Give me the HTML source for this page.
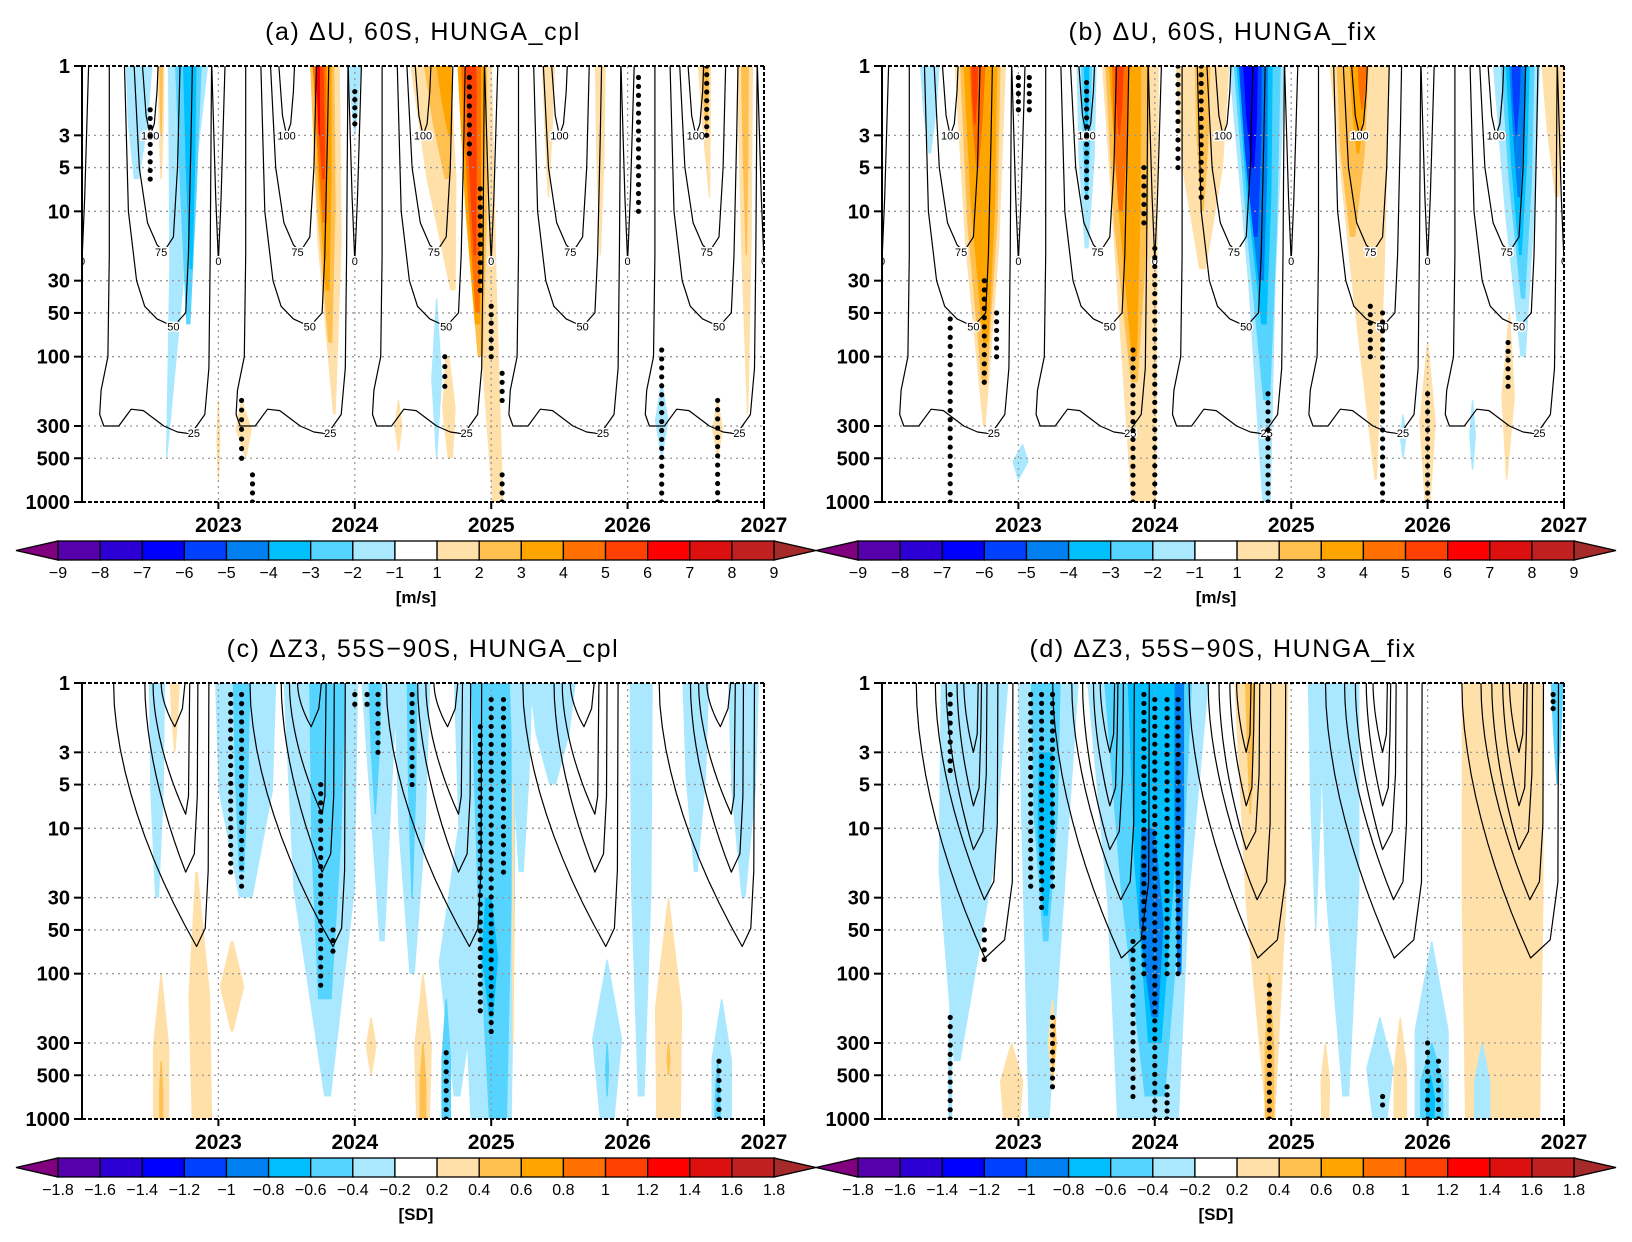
<!DOCTYPE html>
<html><head><meta charset="utf-8"><style>
html,body{margin:0;padding:0;background:#fff;}
svg{display:block;font-family:"Liberation Sans","DejaVu Sans",sans-serif;}
</style></head><body>
<svg id="fig" width="1632" height="1242" viewBox="0 0 1632 1242" xmlns="http://www.w3.org/2000/svg"></svg>
<script>
// ---------- data ----------
const yearTicks = [2023, 2024, 2025, 2026, 2027];
const pressureTicks = [1, 3, 5, 10, 30, 50, 100, 300, 500, 1000];
const windLabels = ["−9","−8","−7","−6","−5","−4","−3","−2","−1","1","2","3","4","5","6","7","8","9"];
const sdLabels = ["−1.8","−1.6","−1.4","−1.2","−1","−0.8","−0.6","−0.4","−0.2","0.2","0.4","0.6","0.8","1","1.2","1.4","1.6","1.8"];
const panelTitles = ["(a) ΔU, 60S, HUNGA_cpl","(b) ΔU, 60S, HUNGA_fix","(c) ΔZ3, 55S−90S, HUNGA_cpl","(d) ΔZ3, 55S−90S, HUNGA_fix"];
// anomaly features: [timeTop, timeBottom, pTop, pBottom, widthTop(yr), widthMid(yr), widthBottom(yr), level]
const featA = [
[2022.42,2022.40,1,6,0.2,0.15,0.04,-1],[2022.78,2022.62,1,500,0.3,0.12,0.01,-1],[2022.78,2022.78,1,60,0.2,0.12,0.03,-2],
[2022.79,2022.8,1,25,0.1,0.07,0.02,-3],[2022.58,2022.58,1,6,0.05,0.04,0.01,1],[2022.58,2022.58,1,3,0.03,0.02,0.01,2],
[2023.78,2023.85,1,250,0.22,0.18,0.02,1],[2023.76,2023.82,1,80,0.18,0.14,0.03,2],[2023.76,2023.8,1,35,0.14,0.1,0.03,3],
[2023.74,2023.78,1,12,0.1,0.07,0.03,4],[2023.74,2023.77,1,6,0.06,0.05,0.02,5],[2023.73,2023.74,1,3,0.03,0.02,0.01,6],
[2024.0,2024.0,1,3,0.1,0.06,0.01,-1],[2024.55,2024.72,1,35,0.3,0.22,0.04,1],[2024.6,2024.68,1,6,0.2,0.14,0.04,2],
[2024.65,2024.7,1,3,0.12,0.08,0.03,3],[2024.88,2025.05,1,1000,0.25,0.15,0.08,1],[2024.86,2024.92,1,100,0.22,0.16,0.04,2],
[2024.85,2024.9,1,60,0.2,0.14,0.04,3],[2024.85,2024.9,1,50,0.15,0.1,0.03,4],[2024.85,2024.88,1,20,0.08,0.06,0.02,5],
[2024.6,2024.6,40,500,0.01,0.08,0.01,-1],[2024.68,2024.7,100,500,0.03,0.1,0.04,1],[2024.32,2024.32,200,450,0.01,0.06,0.01,1],
[2025.42,2025.42,1,8,0.1,0.06,0.01,1],[2025.8,2025.8,1,20,0.08,0.06,0.01,1],[2026.25,2026.25,150,500,0.01,0.1,0.01,-1],
[2026.56,2026.6,1,8,0.1,0.06,0.01,1],[2026.57,2026.58,1,3,0.06,0.04,0.01,2],[2026.66,2026.66,200,500,0.01,0.08,0.01,1],
[2026.86,2026.88,1,250,0.12,0.08,0.01,1],[2026.86,2026.87,1,20,0.06,0.04,0.01,2],[2023.0,2023.0,200,700,0.01,0.03,0.01,1],
[2023.17,2023.2,200,500,0.01,0.12,0.01,1]
];
const featB = [
[2022.35,2022.35,1,4,0.15,0.1,0.02,-1],[2022.72,2022.75,1,300,0.38,0.25,0.02,1],[2022.72,2022.75,1,150,0.3,0.22,0.04,2],
[2022.72,2022.76,1,80,0.25,0.18,0.04,3],[2022.7,2022.7,1,5,0.12,0.08,0.02,4],[2022.68,2022.68,1,2.5,0.05,0.04,0.01,5],
[2023.03,2023.0,400,700,0.01,0.12,0.01,-1],[2023.5,2023.5,1,18,0.15,0.12,0.03,-1],[2023.5,2023.5,1,8,0.08,0.06,0.02,-2],
[2023.5,2023.5,1,3,0.04,0.03,0.01,-3],[2023.82,2023.92,1,1000,0.42,0.3,0.18,1],[2023.8,2023.85,1,150,0.33,0.25,0.05,2],
[2023.78,2023.85,1,100,0.24,0.16,0.04,3],[2023.75,2023.75,1,10,0.13,0.1,0.03,4],[2023.74,2023.74,1,3,0.07,0.05,0.01,5],
[2024.35,2024.35,1,25,0.4,0.3,0.05,1],[2024.35,2024.35,1,10,0.12,0.09,0.02,2],[2024.75,2024.82,1,1000,0.42,0.2,0.06,-1],
[2024.75,2024.82,1,200,0.35,0.22,0.05,-2],[2024.73,2024.8,1,60,0.27,0.18,0.04,-3],[2024.72,2024.78,1,30,0.22,0.15,0.04,-4],
[2024.7,2024.74,1,15,0.17,0.12,0.03,-5],[2024.7,2024.72,1,5,0.11,0.08,0.02,-6],[2025.5,2025.62,1,700,0.45,0.25,0.02,1],
[2025.45,2025.45,1,15,0.24,0.18,0.04,2],[2025.49,2025.49,1,4,0.13,0.09,0.02,3],[2025.52,2025.52,1,2,0.07,0.05,0.01,4],
[2025.82,2025.82,250,500,0.01,0.05,0.01,-1],[2026.0,2026.0,80,1000,0.01,0.12,0.04,1],[2026.33,2026.33,200,600,0.01,0.05,0.01,-1],
[2026.6,2026.58,50,700,0.01,0.1,0.01,1],[2026.65,2026.7,1,100,0.35,0.22,0.04,-1],[2026.66,2026.7,1,40,0.25,0.17,0.03,-2],
[2026.66,2026.68,1,20,0.18,0.12,0.02,-3],[2026.66,2026.67,1,8,0.13,0.08,0.02,-4],[2026.65,2026.65,1,3,0.07,0.05,0.01,-5],
[2026.92,2026.95,1,8,0.18,0.12,0.03,1]
];
const featC = [
[2022.55,2022.55,1,30,0.12,0.1,0.03,-1],[2022.68,2022.68,1,3,0.08,0.05,0.01,1],[2022.84,2022.88,20,1000,0.02,0.16,0.15,1],
[2022.58,2022.58,100,1000,0.01,0.12,0.12,1],[2022.58,2022.58,400,1000,0.01,0.03,0.03,2],[2023.1,2023.1,60,250,0.02,0.18,0.02,1],
[2023.2,2023.2,1,30,0.45,0.4,0.1,-1],[2023.17,2023.17,1,20,0.13,0.1,0.04,-2],[2023.75,2023.8,1,700,0.55,0.45,0.05,-1],
[2023.8,2023.78,1,150,0.27,0.22,0.1,-2],[2024.18,2024.2,1,60,0.27,0.15,0.04,-1],[2024.15,2024.15,1,8,0.1,0.07,0.01,-2],
[2024.42,2024.42,1,100,0.27,0.2,0.04,-1],[2024.42,2024.42,1,30,0.08,0.06,0.01,-2],[2024.78,2024.75,10,700,0.05,0.3,0.05,-1],
[2024.95,2025.0,1,1000,0.45,0.4,0.3,-1],[2025.0,2025.05,1,1000,0.3,0.25,0.13,-2],[2024.98,2025.0,30,200,0.05,0.12,0.03,-3],
[2024.67,2024.67,150,1000,0.01,0.07,0.07,-2],[2024.5,2024.5,100,1000,0.01,0.13,0.1,1],[2024.5,2024.5,300,1000,0.01,0.05,0.05,2],
[2024.12,2024.12,200,500,0.01,0.08,0.01,1],[2025.22,2025.22,1,20,0.17,0.12,0.04,-1],[2025.45,2025.45,1,5,0.35,0.25,0.05,-1],
[2025.85,2025.85,80,1000,0.01,0.22,0.1,-1],[2025.85,2025.85,300,700,0.01,0.03,0.01,-2],[2026.1,2026.1,1,700,0.17,0.15,0.05,-1],
[2026.3,2026.3,30,1000,0.01,0.2,0.18,1],[2026.3,2026.3,300,500,0.01,0.03,0.01,2],[2026.5,2026.5,1,20,0.2,0.15,0.03,-1],
[2026.69,2026.69,150,1000,0.01,0.15,0.15,-1],[2026.66,2026.66,400,1000,0.01,0.04,0.05,-2],[2026.85,2026.85,1,30,0.23,0.18,0.03,-1],
[2025.16,2025.16,5,300,0.01,0.02,0.01,1]
];
const featD = [
[2022.68,2022.55,1,400,0.5,0.4,0.05,-1],[2022.5,2022.5,150,1000,0.01,0.03,0.03,-1],[2022.95,2022.95,300,1000,0.01,0.17,0.12,1],
[2023.22,2023.15,1,1000,0.45,0.3,0.15,-1],[2023.2,2023.2,1,60,0.22,0.18,0.04,-2],[2023.2,2023.2,3,40,0.1,0.12,0.03,-3],
[2023.25,2023.25,150,600,0.01,0.07,0.01,1],[2023.27,2023.25,200,500,0.01,0.03,0.01,2],[2023.95,2023.95,1,1000,0.9,0.6,0.45,-1],
[2023.95,2024.0,1,700,0.65,0.45,0.15,-2],[2024.0,2024.0,1,300,0.4,0.3,0.1,-3],[2023.95,2024.0,10,200,0.1,0.18,0.05,-4],
[2024.18,2024.18,1,100,0.07,0.07,0.03,-4],[2024.78,2024.85,1,1000,0.4,0.3,0.06,1],[2024.7,2024.7,1,8,0.08,0.05,0.01,2],
[2024.84,2024.84,100,1000,0.01,0.07,0.07,2],[2025.18,2025.18,1,50,0.12,0.08,0.01,-1],[2025.35,2025.4,1,700,0.3,0.25,0.05,-1],
[2025.25,2025.25,300,1000,0.01,0.07,0.06,1],[2025.8,2025.8,200,1000,0.01,0.1,0.1,1],[2025.65,2025.65,200,1000,0.01,0.2,0.1,-1],
[2026.03,2026.03,60,1000,0.01,0.25,0.25,-1],[2026.03,2026.03,300,1000,0.01,0.17,0.17,-2],[2026.02,2026.02,500,1000,0.01,0.07,0.06,-3],
[2026.55,2026.55,1,1000,0.6,0.6,0.55,1],[2026.4,2026.4,300,1000,0.01,0.12,0.12,-1],[2026.95,2026.95,1,5,0.1,0.06,0.01,-2]
];
// significance stipples: [time, pTop, pBottom]
const dotsA = [[2022.5,2,6],[2023.17,200,500],[2023.25,650,1000],[2024.0,1.5,2.5],[2024.66,100,160],[2024.84,1.2,4],[2024.92,7,35],[2025.0,45,100],[2025.08,130,200],[2025.08,650,1000],[2026.08,1.2,10],[2026.25,90,1000],[2026.58,1,3],[2026.66,200,1000]];
const dotsB = [[2022.5,55,1000],[2022.75,30,150],[2022.84,50,100],[2023.0,1.2,2],[2023.08,1.2,2],[2023.5,1.3,8],[2023.84,90,1000],[2023.92,5,12],[2024.0,18,1000],[2024.17,1,5],[2024.34,1,8],[2024.83,180,1000],[2025.58,45,100],[2025.67,50,1000],[2026.0,180,1000],[2026.59,80,160]];
const dotsC = [[2023.09,1.2,20],[2023.17,1.2,25],[2023.75,5,120],[2023.84,50,70],[2024.0,1.2,1.4],[2024.09,1.2,1.4],[2024.17,1.2,3],[2024.42,1.2,5],[2024.67,350,1000],[2024.92,2,180],[2025.0,1.3,250],[2025.09,1.3,20],[2026.67,400,1000]];
const dotsD = [[2022.5,1.2,4],[2022.75,50,80],[2022.5,200,1000],[2023.09,1.2,25],[2023.17,1.2,35],[2023.25,1.2,25],[2023.25,200,600],[2023.84,60,700],[2023.92,1.2,100],[2024.0,1.3,1000],[2024.09,1.3,100],[2024.17,1.3,100],[2024.09,600,1000],[2024.84,120,1000],[2025.67,700,800],[2026.0,300,1000],[2026.08,400,1000],[2026.92,1.2,1.5]];
// climatology contour templates (fraction of year, pressure)
const uLevels = ["25","50","75","100","0"];
const uShape25 = [[0.2,1],[0.2,20],[0.19,100],[0.14,170],[0.13,250],[0.16,300],[0.27,300],[0.36,230],[0.45,235],[0.6,300],[0.7,330],[0.8,340],[0.9,250],[0.93,120],[0.94,20],[0.95,1]];
const uShape50 = [[0.31,1],[0.34,10],[0.4,30],[0.46,45],[0.55,55],[0.67,62],[0.76,50],[0.78,20],[0.8,3],[0.81,1]];
const uShape75 = [[0.38,1],[0.42,5],[0.48,12],[0.55,17],[0.6,19],[0.67,15],[0.7,5],[0.72,1]];
const uShape100 = [[0.44,1],[0.47,2.2],[0.5,3],[0.53,2.5],[0.55,1.5],[0.56,1]];
const uShape0 = [[0.95,1],[0.98,8],[1.0,22],[1.02,8],[1.05,1]];
const uLabelPos = [[0.82,335],[0.67,62],[0.58,19],[0.5,3],[1.0,22]];
// Z3 climatology: [leftTopFrac, bottomFrac, bottomP, rightTopFrac]
const zShapeC = [[0.23,0.84,65,0.93],[0.46,0.76,20,0.85],[0.52,0.76,8,0.79],[0.58,0.68,2,0.76]];
const zShapeD = [[0.25,0.755,78,0.96],[0.39,0.75,31,0.85],[0.47,0.67,14,0.77],[0.55,0.67,7,0.73],[0.6,0.67,3,0.71]];
const climYears = [2021,2022,2023,2024,2025,2026];

// ---------- styling ----------
const levelColors = {"-7":"#2C00D4","-6":"#0000FF","-5":"#0040FF","-4":"#0080F0","-3":"#00C0FF","-2":"#55D4FF","-1":"#AAE8FF",
 "1":"#FFE0A8","2":"#FFC050","3":"#FFA500","4":"#FF7000","5":"#FF4000","6":"#FF0000"};
const barColors = ["#5500AA","#2C00D4","#0000FF","#0040FF","#0080F0","#00C0FF","#55D4FF","#AAE8FF","#FFFFFF",
 "#FFE0A8","#FFC050","#FFA500","#FF7000","#FF4000","#FF0000","#DD1010","#C02020"];
const W = 682, H = 436;
const panels = [
 {x0:82,y0:66,feats:featA,dots:dotsA,kind:"u",key:"a"},
 {x0:882,y0:66,feats:featB,dots:dotsB,kind:"u",key:"b"},
 {x0:82,y0:683,feats:featC,dots:dotsC,kind:"zc",key:"c"},
 {x0:882,y0:683,feats:featD,dots:dotsD,kind:"zd",key:"d"}
];
const NS = "http://www.w3.org/2000/svg";
const svg = document.getElementById("fig");
function mk(tag, parent){ const e = document.createElementNS(NS, tag); parent.appendChild(e); return e; }
function sa(e, o){ for (const k in o) e.setAttribute(k, o[k]); return e; }

const defs = mk("defs", svg);
panels.forEach((P, pi) => {
  const X = t => P.x0 + (t - 2022) / 5 * W;
  const Y = p => P.y0 + Math.log10(p) / 3 * H;
  const cp = mk("clipPath", defs); cp.setAttribute("id", "clip" + pi);
  sa(mk("rect", cp), {x:P.x0, y:P.y0, width:W, height:H});

  const g = mk("g", svg);
  
  

  const tt = mk("text", g);
  sa(tt, {x:P.x0 + W/2, y:P.y0 - 26, "text-anchor":"middle", "font-size":"25", "letter-spacing":"1.6", fill:"#000"});
  tt.textContent = panelTitles[pi];
  
  

  const plot = mk("g", g);
  plot.setAttribute("clip-path", "url(#clip" + pi + ")");
  
  

  P.feats.forEach(f => {
    const [t0, t1, pT0, pB0, wT, wM, wB, lev] = f;
    const pT = pT0 <= 1 ? 0.9 : pT0, pB = pB0 >= 1000 ? 1100 : pB0;
    const pM = Math.sqrt(pT0 * pB0), tM = (t0 + t1) / 2;
    const pts = [[t0 - wT/2, pT],[tM - wM/2, pM],[t1 - wB/2, pB],[t1 + wB/2, pB],[tM + wM/2, pM],[t0 + wT/2, pT]];
    const poly = mk("polygon", plot);
    poly.setAttribute("points", pts.map(q => X(q[0]).toFixed(1) + "," + Y(q[1]).toFixed(1)).join(" "));
    poly.setAttribute("fill", levelColors[String(lev)]);
    
    
  });

  pressureTicks.slice(1, -1).forEach(p => {
    const l = mk("line", plot);
    sa(l, {x1:P.x0, x2:P.x0+W, y1:Y(p), y2:Y(p), stroke:"#999", "stroke-width":"1.3", "stroke-dasharray":"2,4"});
    
    
  });
  yearTicks.slice(0, -1).forEach(yr => {
    const l = mk("line", plot);
    sa(l, {x1:X(yr), x2:X(yr), y1:P.y0, y2:P.y0+H, stroke:"#999", "stroke-width":"1.3", "stroke-dasharray":"2,4"});
    
    
  });

  function line(pts){
    const pl = mk("polyline", plot);
    sa(pl, {points: pts.map(q => X(q[0]).toFixed(1) + "," + Y(q[1]).toFixed(1)).join(" "), fill:"none", stroke:"#000", "stroke-width":"1.2", "stroke-linejoin":"round"});
    
    
  }
  function label(t, p, txt){
    const tx = mk("text", plot);
    sa(tx, {x:X(t), y:Y(p) + 4, "text-anchor":"middle", "font-size":"11", fill:"#000", stroke:"#fff", "stroke-width":"3", "paint-order":"stroke"});
    tx.textContent = txt;
    
    
  }
  climYears.forEach(yr => {
    if (P.kind === "u") {
      const shapes = [uShape25, uShape50, uShape75, uShape100, uShape0];
      shapes.forEach((sh, si) => {
        line(sh.map(q => [yr + q[0], q[1] <= 1 ? 0.9 : q[1]]));
        label(yr + uLabelPos[si][0], uLabelPos[si][1], uLevels[si]);
      });
    } else {
      const shapes = P.kind === "zc" ? zShapeC : zShapeD;
      shapes.forEach(s => {
        const [lt, bx, bp, rt] = s;
        const pts = [];
        for (let i = 0; i <= 12; i++) {
          const u = i / 12;
          pts.push([yr + lt + (bx - lt) * Math.pow(u, 1.8), i === 0 ? 0.9 : Math.pow(10, Math.log10(bp) * u)]);
        }
        pts.push([yr + bx + (rt - bx) * 0.7, bp * 0.75]);
        pts.push([yr + rt - 0.005, Math.max(1, bp * 0.3)]);
        pts.push([yr + rt, 0.9]);
        line(pts);
      });
    }
  });

  P.dots.forEach(d => {
    const [t, pT, pB] = d;
    const ya = Y(pT), yb = Y(pB);
    const n = Math.max(1, Math.round((yb - ya) / 9));
    for (let i = 0; i <= n; i++) {
      const c = mk("circle", plot);
      sa(c, {cx:X(t), cy:ya + (yb - ya) * i / n, r:"2.6", fill:"#000"});
      
      
    }
  });

  const fr = mk("g", g);
  
  
  sa(mk("line", fr), {x1:P.x0, x2:P.x0, y1:P.y0, y2:P.y0+H, stroke:"#000", "stroke-width":"2"});
  sa(mk("line", fr), {x1:P.x0, x2:P.x0+W, y1:P.y0, y2:P.y0, stroke:"#000", "stroke-width":"2", "stroke-dasharray":"4,2"});
  sa(mk("line", fr), {x1:P.x0, x2:P.x0+W, y1:P.y0+H, y2:P.y0+H, stroke:"#000", "stroke-width":"2", "stroke-dasharray":"4,2"});
  sa(mk("line", fr), {x1:P.x0+W, x2:P.x0+W, y1:P.y0, y2:P.y0+H, stroke:"#000", "stroke-width":"2", "stroke-dasharray":"4,2"});

  pressureTicks.forEach(p => {
    sa(mk("line", g), {x1:P.x0-8, x2:P.x0, y1:Y(p), y2:Y(p), stroke:"#000", "stroke-width":"2"});
    const tx = mk("text", g);
    sa(tx, {x:P.x0-12, y:Y(p)+7, "text-anchor":"end", "font-size":"20", "font-weight":"bold", fill:"#000"});
    tx.textContent = String(p);
    
    
  });
  yearTicks.forEach(yr => {
    sa(mk("line", g), {x1:X(yr), x2:X(yr), y1:P.y0+H, y2:P.y0+H+7, stroke:"#000", "stroke-width":"2"});
    const tx = mk("text", g);
    sa(tx, {x:X(yr), y:P.y0+H+30, "text-anchor":"middle", "font-size":"21", "font-weight":"bold", fill:"#000"});
    tx.textContent = String(yr);
    
    
  });

  // colorbar: 17 boxes, 18 boundary labels
  const cb = mk("g", svg);
  
  
  const cx0 = P.x0 - 24, cy0 = P.y0 + H + 39, ch = 19, bw = 716 / 17;
  const labels = P.kind === "u" ? windLabels : sdLabels;
  sa(mk("polygon", cb), {points:`${cx0-42},${cy0+ch/2} ${cx0},${cy0} ${cx0},${cy0+ch}`, fill:"#800080", stroke:"#000", "stroke-width":"1.3"});
  sa(mk("polygon", cb), {points:`${cx0+716+42},${cy0+ch/2} ${cx0+716},${cy0} ${cx0+716},${cy0+ch}`, fill:"#A52A2A", stroke:"#000", "stroke-width":"1.3"});
  barColors.forEach((col, i) => {
    const r = mk("rect", cb);
    sa(r, {x:cx0 + i*bw, y:cy0, width:bw, height:ch, fill:col, stroke:"#000", "stroke-width":"1.3"});
    
    
  });
  labels.forEach((lb, i) => {
    const tx = mk("text", cb);
    sa(tx, {x:(cx0 + i * bw).toFixed(1), y:cy0 + ch + 18, "text-anchor":"middle", "font-size":"16", fill:"#000"});
    tx.textContent = lb;
    
    
  });
  const ul = mk("text", cb);
  sa(ul, {x:cx0 + 358, y:cy0 + ch + 43, "text-anchor":"middle", "font-size":"17", "font-weight":"bold", fill:"#000"});
  ul.textContent = P.kind === "u" ? "[m/s]" : "[SD]";
  
  
});
</script>
</body></html>
